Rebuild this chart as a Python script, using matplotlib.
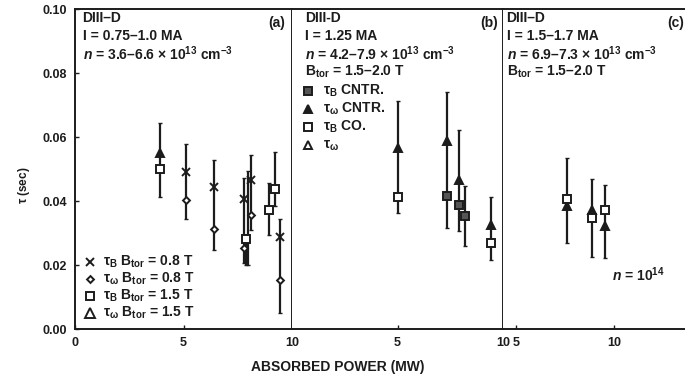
import numpy as np
import matplotlib
matplotlib.use("Agg")
import matplotlib.pyplot as plt

plt.rcParams['font.family'] = ['Liberation Sans', 'DejaVu Sans']
plt.rcParams['font.weight'] = 'bold'
plt.rcParams['mathtext.fontset'] = 'custom'
plt.rcParams['mathtext.rm'] = 'Liberation Sans:bold'
plt.rcParams['mathtext.bf'] = 'Liberation Sans:bold'
plt.rcParams['mathtext.it'] = 'Liberation Sans:italic:bold'
plt.rcParams['mathtext.default'] = 'bf'

INK = '#1c1c1c'

# ---- panel (a) data ----
a_bar_x = [3.9, 5.1, 6.4, 7.77, 7.88, 7.99, 8.13, 8.95, 9.2, 9.45]
a_bar_lo = [0.0413, 0.0344, 0.0248, 0.0206, 0.0200, 0.0200, 0.031, 0.0295, 0.0383, 0.0049]
a_bar_hi = [0.0645, 0.0577, 0.0528, 0.0472, 0.0293, 0.0493, 0.0545, 0.0457, 0.0553, 0.0344]
a_tauB_08_x = [5.1, 6.4, 7.77, 8.13, 9.45]
a_tauB_08_y = [0.049, 0.0444, 0.0407, 0.0465, 0.0289]
a_tauW_08_x = [5.1, 6.4, 7.77, 8.13, 9.45]
a_tauW_08_y = [0.0404, 0.0312, 0.0253, 0.0357, 0.0154]
a_tauB_15_x = [3.9, 7.88, 8.95, 9.2]
a_tauB_15_y = [0.0501, 0.028, 0.0373, 0.0436]
a_tauW_15_x = [3.9]
a_tauW_15_y = [0.0551]

# ---- panel (b) data ----
b_bar_x = [5.02, 7.34, 7.92, 8.2, 9.42]
b_bar_lo = [0.0363, 0.0316, 0.0305, 0.0258, 0.0216]
b_bar_hi = [0.0712, 0.0741, 0.0622, 0.0448, 0.0413]
b_tauB_cntr_x = [7.34, 7.92, 8.2]
b_tauB_cntr_y = [0.0415, 0.0386, 0.0352]
b_tauW_cntr_x = [5.02, 7.34, 7.92, 9.42]
b_tauW_cntr_y = [0.0566, 0.0587, 0.0467, 0.0326]
b_tauB_co_x = [5.02, 9.42]
b_tauB_co_y = [0.0413, 0.0269]

# ---- panel (c) data ----
c_bar_x = [7.59, 8.89, 9.53]
c_bar_lo = [0.0269, 0.0225, 0.0222]
c_bar_hi = [0.0535, 0.0469, 0.0451]
c_tauB_x = [7.59, 8.89, 9.53]
c_tauB_y = [0.0405, 0.0347, 0.0371]
c_tauW_x = [7.59, 8.89, 9.53]
c_tauW_y = [0.0385, 0.0371, 0.0323]

fig = plt.figure(figsize=(6.85, 3.82), dpi=100)
bottom, height = 0.1387, 0.8377
axa = fig.add_axes([0.1095, bottom, 0.3168, height])
axb = fig.add_axes([0.4263, bottom, 0.3080, height])
axc = fig.add_axes([0.7343, bottom, 0.2700, height])

def bars(ax, x, lo, hi):
    x = np.array(x); lo = np.array(lo); hi = np.array(hi)
    mid = (lo + hi) / 2
    ax.errorbar(x, mid, yerr=(hi - lo) / 2, fmt='none', ecolor=INK,
                elinewidth=1.6, capsize=1.5, capthick=1.0)

mk = dict(color=INK, linestyle='none', markeredgewidth=1.4)

for ax in (axa, axb, axc):
    ax.set_ylim(0, 0.10)
    for s in ax.spines.values():
        s.set_linewidth(1.4)
        s.set_color(INK)
    ax.tick_params(direction='in', length=3, width=1.0, colors=INK,
                   labelsize=9, pad=6)

axa.set_xlim(0, 10)
axb.set_xlim(0, 10)
axc.set_xlim(4.32, 13.77)
axa.set_xticks([0, 5, 10])
axb.set_xticks([5, 10])
axc.set_xticks([5, 10])
axa.set_yticks([0, 0.02, 0.04, 0.06, 0.08, 0.10])
axa.yaxis.set_major_formatter(plt.FuncFormatter(lambda v, _: f'{v:.2f}'))
for ax in (axb, axc):
    ax.set_yticks([])
axb.spines['left'].set_visible(False)
axc.spines['left'].set_visible(False)
axc.spines['right'].set_visible(False)

# panel (a)
bars(axa, a_bar_x, a_bar_lo, a_bar_hi)
axa.plot(a_tauB_08_x, a_tauB_08_y, marker='x', ms=5.5, **mk)
axa.plot(a_tauW_08_x, a_tauW_08_y, marker='D', ms=3.5, mfc='white', **mk)
axa.plot(a_tauB_15_x, a_tauB_15_y, marker='s', ms=5.5, mfc='white', **mk)
axa.plot(a_tauW_15_x, a_tauW_15_y, marker='^', ms=5.5, mfc=INK, **mk)

# panel (b)
bars(axb, b_bar_x, b_bar_lo, b_bar_hi)
axb.plot(b_tauW_cntr_x, b_tauW_cntr_y, marker='^', ms=5.5, mfc=INK, **mk)
axb.plot(b_tauB_cntr_x, b_tauB_cntr_y, marker='s', ms=5.5, mfc='#555555', **mk)
axb.plot(b_tauB_co_x, b_tauB_co_y, marker='s', ms=5.5, mfc='white', **mk)

# panel (c)
bars(axc, c_bar_x, c_bar_lo, c_bar_hi)
axc.plot(c_tauW_x, c_tauW_y, marker='^', ms=5.5, mfc=INK, **mk)
axc.plot(c_tauB_x, c_tauB_y, marker='s', ms=5.5, mfc='white', **mk)

# header texts
tk = dict(fontsize=10, fontweight='bold', color=INK, va='center', ha='left')
def header(ax, x0, lines):
    for i, s in enumerate(lines):
        ax.text(x0, 0.0972 - i * 0.0056, s, transform=ax.transData, **tk)

header(axa, 0.35, ['DIII–D', 'I = 0.75–1.0 MA',
                   r'$\mathit{n}$ = 3.6–6.6 $\times$ 10$^{13}$ cm$^{-3}$'])
axa.text(8.9, 0.0955, '(a)', **tk)
header(axb, 0.6, ['DIII-D', 'I = 1.25 MA',
                  r'$\mathit{n}$ = 4.2–7.9 $\times$ 10$^{13}$ cm$^{-3}$',
                  r'B$_{tor}$ = 1.5–2.0 T'])
axb.text(8.9, 0.0955, '(b)', **tk)
header(axc, 4.5, ['DIII–D', 'I = 1.5–1.7 MA',
                  r'$\mathit{n}$ = 6.9–7.3 $\times$ 10$^{13}$ cm$^{-3}$',
                  r'B$_{tor}$ = 1.5–2.0 T'])
axc.text(12.7, 0.0955, '(c)', **tk)
axc.text(9.9, 0.0170, r'$\mathit{n}$ = 10$^{14}$', **tk)

# legend (a)
leg_a = [('x', INK, r'$\tau_B$ B$_{tor}$ = 0.8 T', 5.5),
         ('D', 'white', r'$\tau_\omega$ B$_{tor}$ = 0.8 T', 3.5),
         ('s', 'white', r'$\tau_B$ B$_{tor}$ = 1.5 T', 6),
         ('^', 'white', r'$\tau_\omega$ B$_{tor}$ = 1.5 T', 6.5)]
for i, (m, fc, lab, ms) in enumerate(leg_a):
    yy = 0.0210 - i * 0.0053
    axa.plot([0.7], [yy], marker=m, ms=ms, mfc=fc, **mk)
    axa.text(1.3, yy, lab, **tk)

# legend (b)
leg_b = [('s', '#555555', r'$\tau_B$ CNTR.'),
         ('^', INK, r'$\tau_\omega$ CNTR.'),
         ('s', 'white', r'$\tau_B$ CO.'),
         ('^', 'white', r'$\tau_\omega$')]
for i, (m, fc, lab) in enumerate(leg_b):
    yy = 0.0745 - i * 0.0057
    axb.plot([0.75], [yy], marker=m, ms=6, mfc=fc, **mk)
    axb.text(1.45, yy, lab, **tk)

fig.text(0.035, 0.515, r'$\tau$ (sec)', rotation=90, fontsize=8.5,
         fontweight='bold', color=INK, ha='center', va='center')
fig.text(0.493, 0.038, 'ABSORBED POWER (MW)', fontsize=10, fontweight='bold',
         color=INK, ha='center', va='center')

fig.savefig('out.png', dpi=100)
